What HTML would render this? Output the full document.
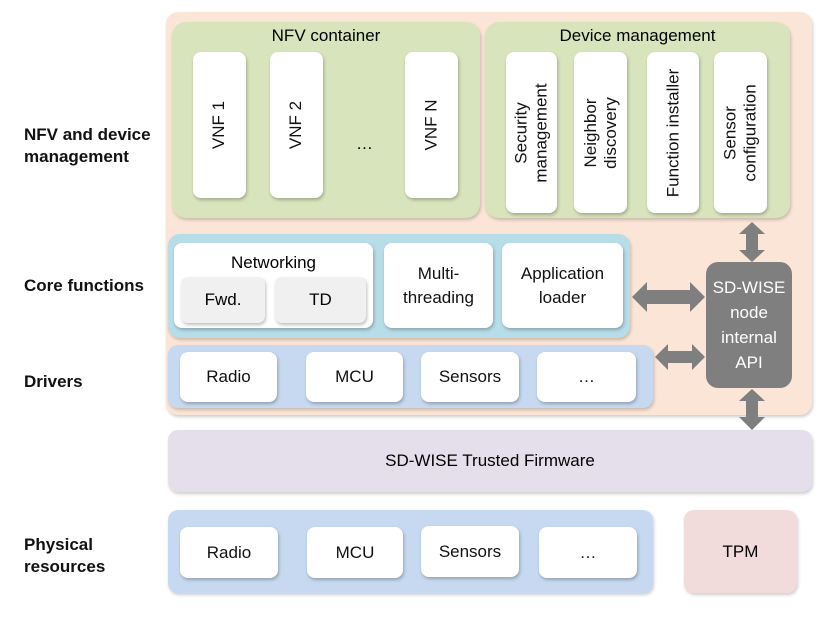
<!DOCTYPE html>
<html><head><style>
body{margin:0;width:830px;height:623px;background:#fff;position:relative;overflow:hidden;font-family:"Liberation Sans",sans-serif;}
.a{position:absolute;box-sizing:border-box;}
.c{display:flex;align-items:center;justify-content:center;text-align:center;}
.w{background:#fff;border-radius:8px;box-shadow:1px 2px 3px rgba(0,0,0,.25);font-size:17px;color:#111;}
.v span{transform:rotate(-90deg);white-space:nowrap;display:block;font-size:17px;line-height:20px;}
.lab{font-weight:bold;font-size:17px;color:#111;line-height:22px;}
</style></head><body>
<div class="a lab" style="left:24px;top:124px">NFV and device<br>management</div>
<div class="a lab" style="left:24px;top:275px">Core functions</div>
<div class="a lab" style="left:24px;top:371px">Drivers</div>
<div class="a lab" style="left:24px;top:534px">Physical<br>resources</div>

<div class="a" style="left:166px;top:12px;width:646px;height:403px;background:#fbe5d6;border-radius:12px;box-shadow:1px 2px 3px rgba(0,0,0,.2)"></div>
<div class="a" style="left:172px;top:22px;width:308px;height:196px;background:#d8e4bc;border-radius:14px;box-shadow:1px 2px 3px rgba(0,0,0,.2)"></div>
<div class="a" style="left:172px;top:26px;width:308px;text-align:center;font-size:17px">NFV container</div>
<div class="a" style="left:485px;top:22px;width:305px;height:196px;background:#d8e4bc;border-radius:14px;box-shadow:1px 2px 3px rgba(0,0,0,.2)"></div>
<div class="a" style="left:485px;top:26px;width:305px;text-align:center;font-size:17px">Device management</div>

<div class="a w c v" style="left:193px;top:52px;width:53px;height:146px"><span>VNF 1</span></div>
<div class="a w c v" style="left:270px;top:52px;width:53px;height:146px"><span>VNF 2</span></div>
<div class="a" style="left:356px;top:134px;font-size:17px">…</div>
<div class="a w c v" style="left:405px;top:52px;width:53px;height:146px"><span>VNF N</span></div>

<div class="a w c v" style="left:506px;top:52px;width:51px;height:161px"><span>Security<br>management</span></div>
<div class="a w c v" style="left:574px;top:52px;width:53px;height:161px"><span>Neighbor<br>discovery</span></div>
<div class="a w c v" style="left:647px;top:52px;width:52px;height:161px"><span>Function installer</span></div>
<div class="a w c v" style="left:714px;top:52px;width:53px;height:161px"><span>Sensor<br>configuration</span></div>

<div class="a" style="left:168px;top:234px;width:462px;height:104px;background:#b7dde8;border-radius:12px;box-shadow:1px 2px 3px rgba(0,0,0,.2)"></div>
<div class="a w" style="left:174px;top:243px;width:199px;height:85px"></div>
<div class="a" style="left:174px;top:253px;width:199px;text-align:center;font-size:17px">Networking</div>
<div class="a c" style="left:181px;top:277px;width:84px;height:46px;background:#f0f0f0;border-radius:7px;box-shadow:1px 2px 3px rgba(0,0,0,.25);font-size:17px">Fwd.</div>
<div class="a c" style="left:275px;top:277px;width:91px;height:46px;background:#f0f0f0;border-radius:7px;box-shadow:1px 2px 3px rgba(0,0,0,.25);font-size:17px">TD</div>
<div class="a w c" style="left:384px;top:243px;width:109px;height:85px;line-height:24px">Multi-<br>threading</div>
<div class="a w c" style="left:502px;top:243px;width:121px;height:85px;line-height:24px">Application<br>loader</div>

<div class="a" style="left:168px;top:345px;width:485px;height:63px;background:#c6d9f0;border-radius:10px;box-shadow:1px 2px 3px rgba(0,0,0,.2)"></div>
<div class="a w c" style="left:180px;top:352px;width:97px;height:50px">Radio</div>
<div class="a w c" style="left:306px;top:352px;width:97px;height:50px">MCU</div>
<div class="a w c" style="left:421px;top:352px;width:98px;height:50px">Sensors</div>
<div class="a w c" style="left:537px;top:352px;width:99px;height:50px">…</div>

<div class="a c" style="left:706px;top:262px;width:86px;height:126px;background:#7f7f7f;border-radius:12px;color:#fff;font-size:17px;line-height:25px">SD-WISE<br>node<br>internal<br>API</div>

<svg class="a" style="left:0;top:0" width="830" height="623">
<g fill="#7f7f7f">
<polygon points="752,222 765,234 758,234 758,250 765,250 752,262 739,250 746,250 746,234 739,234"/>
<polygon points="752,389 765,401 758,401 758,417 765,417 752,430 739,417 746,417 746,401 739,401"/>
<polygon points="632,297 647,282 647,290 690,290 690,282 705,297 690,312 690,304 647,304 647,312"/>
<polygon points="655,357 668,344 668,351 692,351 692,344 705,357 692,370 692,363 668,363 668,370"/>
</g></svg>

<div class="a c" style="left:168px;top:430px;width:644px;height:62px;background:#e5dfec;border-radius:10px;box-shadow:1px 2px 3px rgba(0,0,0,.2);font-size:17px">SD-WISE Trusted Firmware</div>

<div class="a" style="left:168px;top:510px;width:485px;height:83px;background:#c6d9f0;border-radius:10px;box-shadow:1px 2px 3px rgba(0,0,0,.2)"></div>
<div class="a w c" style="left:180px;top:527px;width:98px;height:51px">Radio</div>
<div class="a w c" style="left:307px;top:527px;width:96px;height:51px">MCU</div>
<div class="a w c" style="left:421px;top:526px;width:98px;height:51px">Sensors</div>
<div class="a w c" style="left:539px;top:527px;width:98px;height:51px">…</div>
<div class="a c" style="left:684px;top:510px;width:113px;height:83px;background:#f2dcdb;border-radius:10px;box-shadow:1px 2px 3px rgba(0,0,0,.2);font-size:17px">TPM</div>
</body></html>
